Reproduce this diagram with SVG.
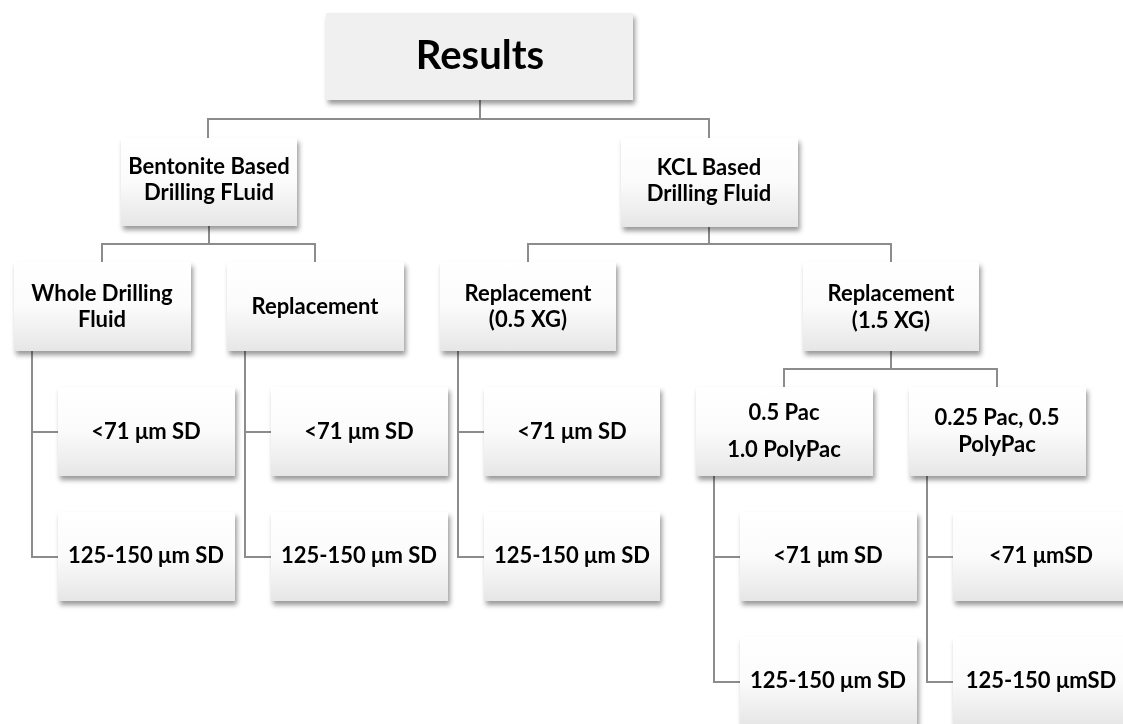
<svg xmlns="http://www.w3.org/2000/svg" width="1123" height="724" viewBox="0 0 1123 724">
<style>
.box{fill:url(#g);}
.root{fill:#f0f0f0;}
.t{font-family:Lato,"Liberation Sans",sans-serif;font-weight:bold;font-size:22px;fill:#000;text-anchor:middle;}
.big{font-size:40px;}
.c{stroke:#8c8c8c;stroke-width:2;fill:none;}
</style>
<defs>
<linearGradient id="g" x1="0" y1="0" x2="0" y2="1">
<stop offset="0" stop-color="#ffffff"/>
<stop offset="0.5" stop-color="#fbfbfb"/>
<stop offset="1" stop-color="#e6e6e6"/>
</linearGradient>
<filter id="sh" x="-10%" y="-10%" width="125%" height="135%">
<feDropShadow dx="2" dy="4" stdDeviation="2.5" flood-color="#000" flood-opacity="0.4"/>
</filter>
</defs>
<rect width="1123" height="724" fill="#fff"/>
<g id="connectors" class="c">
<path d="M480 100V119M208 138V119H709V138"/>
<path d="M209 226V244M102 262V244H315V262"/>
<path d="M709 227V244M528 262V244H891V262"/>
<path d="M32 351V557H58M32 432H58"/>
<path d="M245 351V557H271M245 432H271"/>
<path d="M458 351V557H484M458 432H484"/>
<path d="M891 351V369M784 387V369H997V387"/>
<path d="M714 476V682H740M714 557H740"/>
<path d="M927 476V682H953M927 557H953"/>
</g>
<g id="results" filter="url(#sh)"><rect class="root" x="326" y="13" width="307" height="87"/><text class="t big" x="480" y="69">Results</text></g>
<g id="bentonite" filter="url(#sh)"><rect class="box" x="121" y="138" width="176" height="88"/><text class="t" x="209" y="174">Bentonite Based</text><text class="t" x="209" y="200">Drilling FLuid</text></g>
<g id="kcl" filter="url(#sh)"><rect class="box" x="621" y="138" width="177" height="89"/><text class="t" x="709" y="175">KCL Based</text><text class="t" x="709" y="201">Drilling Fluid</text></g>
<g id="whole" filter="url(#sh)"><rect class="box" x="14" y="262" width="177" height="89"/><text class="t" x="102" y="301">Whole Drilling</text><text class="t" x="102" y="327">Fluid</text></g>
<g id="replacement" filter="url(#sh)"><rect class="box" x="227" y="262" width="177" height="89"/><text class="t" x="315" y="314">Replacement</text></g>
<g id="rep05" filter="url(#sh)"><rect class="box" x="440" y="262" width="176" height="89"/><text class="t" x="528" y="301">Replacement</text><text class="t" x="528" y="327">(0.5 XG)</text></g>
<g id="rep15" filter="url(#sh)"><rect class="box" x="803" y="262" width="176" height="89"/><text class="t" x="891" y="301">Replacement</text><text class="t" x="891" y="328">(1.5 XG)</text></g>
<g id="w71" filter="url(#sh)"><rect class="box" x="58" y="387" width="177" height="89"/><text class="t" x="146" y="439">&lt;71 μm SD</text></g>
<g id="r71" filter="url(#sh)"><rect class="box" x="271" y="387" width="177" height="89"/><text class="t" x="359" y="439">&lt;71 μm SD</text></g>
<g id="x71" filter="url(#sh)"><rect class="box" x="484" y="387" width="176" height="89"/><text class="t" x="572" y="439">&lt;71 μm SD</text></g>
<g id="pac05" filter="url(#sh)"><rect class="box" x="696" y="387" width="177" height="89"/><text class="t" x="784" y="420">0.5 Pac</text><text class="t" x="784" y="457">1.0 PolyPac</text></g>
<g id="pac025" filter="url(#sh)"><rect class="box" x="909" y="387" width="177" height="89"/><text class="t" x="997" y="425">0.25 Pac, 0.5</text><text class="t" x="997" y="452">PolyPac</text></g>
<g id="w125" filter="url(#sh)"><rect class="box" x="58" y="512" width="177" height="89"/><text class="t" x="146" y="563">125-150 μm SD</text></g>
<g id="r125" filter="url(#sh)"><rect class="box" x="271" y="512" width="177" height="89"/><text class="t" x="359" y="563">125-150 μm SD</text></g>
<g id="x125" filter="url(#sh)"><rect class="box" x="484" y="512" width="176" height="89"/><text class="t" x="572" y="563">125-150 μm SD</text></g>
<g id="p71" filter="url(#sh)"><rect class="box" x="740" y="512" width="177" height="89"/><text class="t" x="828" y="563">&lt;71 μm SD</text></g>
<g id="q71" filter="url(#sh)"><rect class="box" x="953" y="512" width="177" height="89"/><text class="t" x="1041" y="563">&lt;71 μmSD</text></g>
<g id="p125" filter="url(#sh)"><rect class="box" x="740" y="637" width="177" height="89"/><text class="t" x="828" y="688">125-150 μm SD</text></g>
<g id="q125" filter="url(#sh)"><rect class="box" x="953" y="637" width="177" height="89"/><text class="t" x="1041" y="688">125-150 μmSD</text></g>
</svg>
